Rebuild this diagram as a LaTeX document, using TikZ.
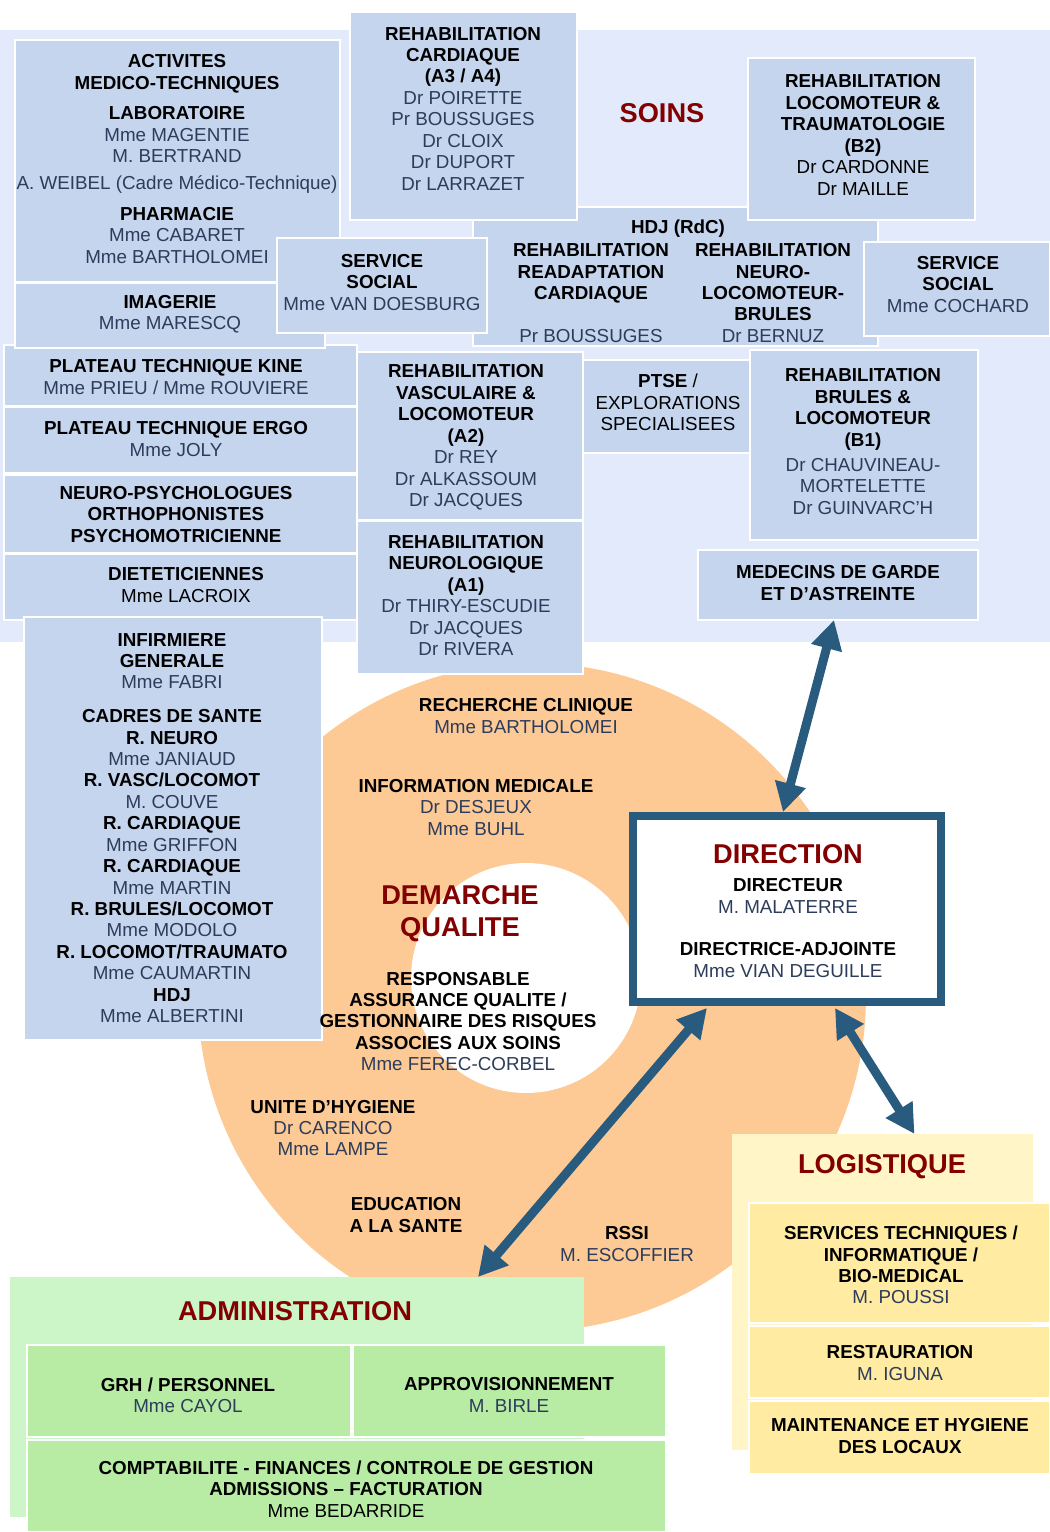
\documentclass[tikz,border=0pt]{standalone}
\usepackage{fontspec}
\setmainfont{Liberation Sans}
\usepackage{xcolor}
\usepackage{tikz}
\usetikzlibrary{fit,calc,arrows.meta}

\definecolor{soinsfond}{RGB}{227,234,251}
\definecolor{casebleue}{RGB}{197,213,238}
\definecolor{nomcol}{RGB}{44,60,90}
\definecolor{titrerouge}{RGB}{130,0,0}
\definecolor{anneau}{RGB}{253,202,150}
\definecolor{dircol}{RGB}{41,91,127}
\definecolor{adminfond}{RGB}{204,245,200}
\definecolor{admincase}{RGB}{184,236,165}
\definecolor{logfond}{RGB}{255,245,198}
\definecolor{logcase}{RGB}{255,235,161}

\newcommand{\gras}[1]{\textcolor{black}{\bfseries #1}}
\newcommand{\noir}[1]{\textcolor{black}{#1}}

\begin{document}
\begin{tikzpicture}[x=0.02cm, y=-0.02cm,
  fond/.style={inner sep=0pt, outer sep=0pt},
  boite/.style={draw=white, line width=1.4pt, inner sep=0pt, outer sep=0pt},
  txt/.style={align=center, inner sep=0pt, text=nomcol, font=\fontsize{10.7}{12.2}\selectfont},
  titre/.style={align=center, inner sep=0pt, text=titrerouge, font=\fontsize{15.5}{17.6}\selectfont\bfseries},
  lien/.style={draw=dircol, line width=5.1pt, {Triangle[width=17pt,length=16.5pt]}-{Triangle[width=17pt,length=16.5pt]}}
]
  \useasboundingbox (0,0) rectangle (1050,1532);

  % anneau de la demarche qualite
  \node[circle, fill=anneau, inner sep=0pt, minimum size=13.36cm] (qualite) at (532,997) {};
  \node[circle, fill=white, inner sep=0pt, minimum size=4.6cm] (creux) at (526,978) {};

  % SOINS : fond et cases
  \node[fond, fill=soinsfond, fit={(0,30) (1050,642)}] (soins) {};
  \foreach \xa/\ya/\xb/\yb/\nom in {
    473/207/878/346/hdj, 15/40/340/282/medtech, 4/345/357/406/kine,
    15/283/325/348/imagerie, 277/238/487/333/socialg, 350/12/577/220/cardio,
    748/58/975/220/locotrauma, 864/242/1050/336/sociald, 4/407/357/473/ergo,
    4/475/357/553/neuropsy, 4/554/357/620/dietet, 357/352/583/520/vasculaire,
    357/521/583/674/neurologie, 583/360/750/453/ptse, 750/350/978/540/brules,
    698/550/978/620/garde, 24/617/322/1040/infirmiere
  }{
    \node[boite, fill=casebleue, fit={(\xa,\ya) (\xb,\yb)}] (\nom) {};
  }

  \node[titre] (soins-t) at (662,113) {SOINS};
  \node[txt] (medtech-t) at (177,159) {\gras{ACTIVITES}\\\gras{MEDICO-TECHNIQUES}\\[5.4pt]\gras{LABORATOIRE}\\Mme MAGENTIE\\M. BERTRAND\\[3pt]A. WEIBEL (Cadre Médico-Technique)\\[5.4pt]\gras{PHARMACIE}\\Mme CABARET\\Mme BARTHOLOMEI};
  \node[txt] (imagerie-t) at (170,314) {\gras{IMAGERIE}\\Mme MARESCQ};
  \node[txt] (socialg-t) at (382,282.5) {\gras{SERVICE}\\\gras{SOCIAL}\\Mme VAN DOESBURG};
  \node[txt] (cardio-t) at (463,108.5) {\gras{REHABILITATION}\\\gras{CARDIAQUE}\\\gras{(A3 / A4)}\\Dr POIRETTE\\Pr BOUSSUGES\\Dr CLOIX\\Dr DUPORT\\Dr LARRAZET};
  \node[txt] (locotrauma-t) at (863,135) {\gras{REHABILITATION}\\\gras{LOCOMOTEUR \&}\\\gras{TRAUMATOLOGIE}\\\gras{(B2)}\\\noir{Dr CARDONNE}\\\noir{Dr MAILLE}};
  \node[txt] (hdj-t) at (678,229) {\gras{HDJ (RdC)}};
  \node[txt] (hdj-cardio) at (591,293) {\gras{REHABILITATION}\\\gras{READAPTATION}\\\gras{CARDIAQUE}\\[12.2pt]Pr BOUSSUGES};
  \node[txt] (hdj-neuro) at (773,293) {\gras{REHABILITATION}\\\gras{NEURO-}\\\gras{LOCOMOTEUR-}\\\gras{BRULES}\\Dr BERNUZ};
  \node[txt] (sociald-t) at (958,284.5) {\gras{SERVICE}\\\gras{SOCIAL}\\Mme COCHARD};
  \node[txt] (kine-t) at (176,377) {\gras{PLATEAU TECHNIQUE KINE}\\Mme PRIEU / Mme ROUVIERE};
  \node[txt] (ergo-t) at (176,439) {\gras{PLATEAU TECHNIQUE ERGO}\\Mme JOLY};
  \node[txt] (neuropsy-t) at (176,514.5) {\gras{NEURO-PSYCHOLOGUES}\\\gras{ORTHOPHONISTES}\\\gras{PSYCHOMOTRICIENNE}};
  \node[txt] (dietet-t) at (186,585) {\gras{DIETETICIENNES}\\\noir{Mme LACROIX}};
  \node[txt] (vasculaire-t) at (466,437.5) {\gras{REHABILITATION}\\\gras{VASCULAIRE \&}\\\gras{LOCOMOTEUR}\\\gras{(A2)}\\Dr REY\\Dr ALKASSOUM\\Dr JACQUES};
  \node[txt] (neurologie-t) at (466,595.5) {\gras{REHABILITATION}\\\gras{NEUROLOGIQUE}\\\gras{(A1)}\\Dr THIRY-ESCUDIE\\Dr JACQUES\\Dr RIVERA};
  \node[txt] (ptse-t) at (668,402.5) {\gras{PTSE} \noir{/}\\\noir{EXPLORATIONS}\\\noir{SPECIALISEES}};
  \node[txt] (brules-t) at (863,441.5) {\gras{REHABILITATION}\\\gras{BRULES \&}\\\gras{LOCOMOTEUR}\\\gras{(B1)}\\[2pt]Dr CHAUVINEAU-\\MORTELETTE\\Dr GUINVARC’H};
  \node[txt] (garde-t) at (838,583) {\gras{MEDECINS DE GARDE}\\\gras{ET D’ASTREINTE}};
  \node[txt] (infirmiere-t) at (172,828) {\gras{INFIRMIERE}\\\gras{GENERALE}\\Mme FABRI\\[7pt]\gras{CADRES DE SANTE}\\\gras{R. NEURO}\\Mme JANIAUD\\\gras{R. VASC/LOCOMOT}\\M. COUVE\\\gras{R. CARDIAQUE}\\Mme GRIFFON\\\gras{R. CARDIAQUE}\\Mme MARTIN\\\gras{R. BRULES/LOCOMOT}\\Mme MODOLO\\\gras{R. LOCOMOT/TRAUMATO}\\Mme CAUMARTIN\\\gras{HDJ}\\Mme ALBERTINI};

  % textes de l'anneau
  \node[txt] (recherche) at (526,716) {\gras{RECHERCHE CLINIQUE}\\Mme BARTHOLOMEI};
  \node[txt] (infomed) at (476,807.5) {\gras{INFORMATION MEDICALE}\\Dr DESJEUX\\Mme BUHL};
  \node[titre, font=\fontsize{15.5}{18.2}\selectfont\bfseries] (qualite-t) at (460,914) {DEMARCHE\\QUALITE};
  \node[txt] (raq) at (458,1021.5) {\gras{RESPONSABLE}\\\gras{ASSURANCE QUALITE /}\\\gras{GESTIONNAIRE DES RISQUES}\\\gras{ASSOCIES AUX SOINS}\\Mme FEREC-CORBEL};
  \node[txt] (hygiene) at (333,1128) {\gras{UNITE D’HYGIENE}\\Dr CARENCO\\Mme LAMPE};
  \node[txt] (education) at (406,1215) {\gras{EDUCATION}\\\gras{A LA SANTE}};
  \node[txt] (rssi) at (627,1244) {\gras{RSSI}\\M. ESCOFFIER};

  % DIRECTION
  \node[draw=dircol, line width=4.5pt, fill=white, inner sep=0pt, minimum width=6.16cm, minimum height=3.72cm] (direction) at (787,909) {};
  \node[titre] (direction-t) at (788,854) {DIRECTION};
  \node[txt] (direction-noms) at (788,928) {\gras{DIRECTEUR}\\M. MALATERRE\\[12.2pt]\gras{DIRECTRICE-ADJOINTE}\\Mme VIAN DEGUILLE};

  % ADMINISTRATION
  \node[fond, fill=adminfond, fit={(10,1277) (584,1517)}] (admin) {};
  \node[titre] (admin-t) at (295,1311) {ADMINISTRATION};
  \foreach \xa/\ya/\xb/\yb/\nom in {27/1345/351/1437/grh, 353/1345/666/1437/appro, 27/1440/666/1532/compta}{
    \node[boite, fill=admincase, fit={(\xa,\ya) (\xb,\yb)}] (\nom) {};
  }
  \node[txt] (grh-t) at (188,1395) {\gras{GRH / PERSONNEL}\\Mme CAYOL};
  \node[txt] (appro-t) at (509,1395) {\gras{APPROVISIONNEMENT}\\M. BIRLE};
  \node[txt] (compta-t) at (346,1489) {\gras{COMPTABILITE - FINANCES / CONTROLE DE GESTION}\\\gras{ADMISSIONS – FACTURATION}\\\noir{Mme BEDARRIDE}};

  % LOGISTIQUE
  \node[fond, fill=logfond, fit={(732,1134) (1033,1450)}] (logistique) {};
  \node[titre] (logistique-t) at (882,1167) {LOGISTIQUE};
  \foreach \xa/\ya/\xb/\yb/\nom in {749/1203/1050/1323/techniques, 749/1326/1050/1398/restauration, 749/1401/1050/1474/maintenance}{
    \node[boite, fill=logcase, fit={(\xa,\ya) (\xb,\yb)}] (\nom) {};
  }
  \node[txt] (techniques-t) at (901,1265) {\gras{SERVICES TECHNIQUES /}\\\gras{INFORMATIQUE /}\\\gras{BIO-MEDICAL}\\M. POUSSI};
  \node[txt] (restauration-t) at (900,1363) {\gras{RESTAURATION}\\M. IGUNA};
  \node[txt] (maintenance-t) at (900,1436) {\gras{MAINTENANCE ET HYGIENE}\\\gras{DES LOCAUX}};

  % liaisons avec la direction
  \draw[lien] ($(garde.south)+(-4,0)$) -- ($(direction.north)+(-4,0)$);
  \draw[lien] ($(direction.south)+(-80,2)$) -- ($(admin.north)+(181,0)$);
  \draw[lien] ($(direction.south)+(48,2)$) -- ($(logistique.north)+(32,0)$);

\end{tikzpicture}
\end{document}
